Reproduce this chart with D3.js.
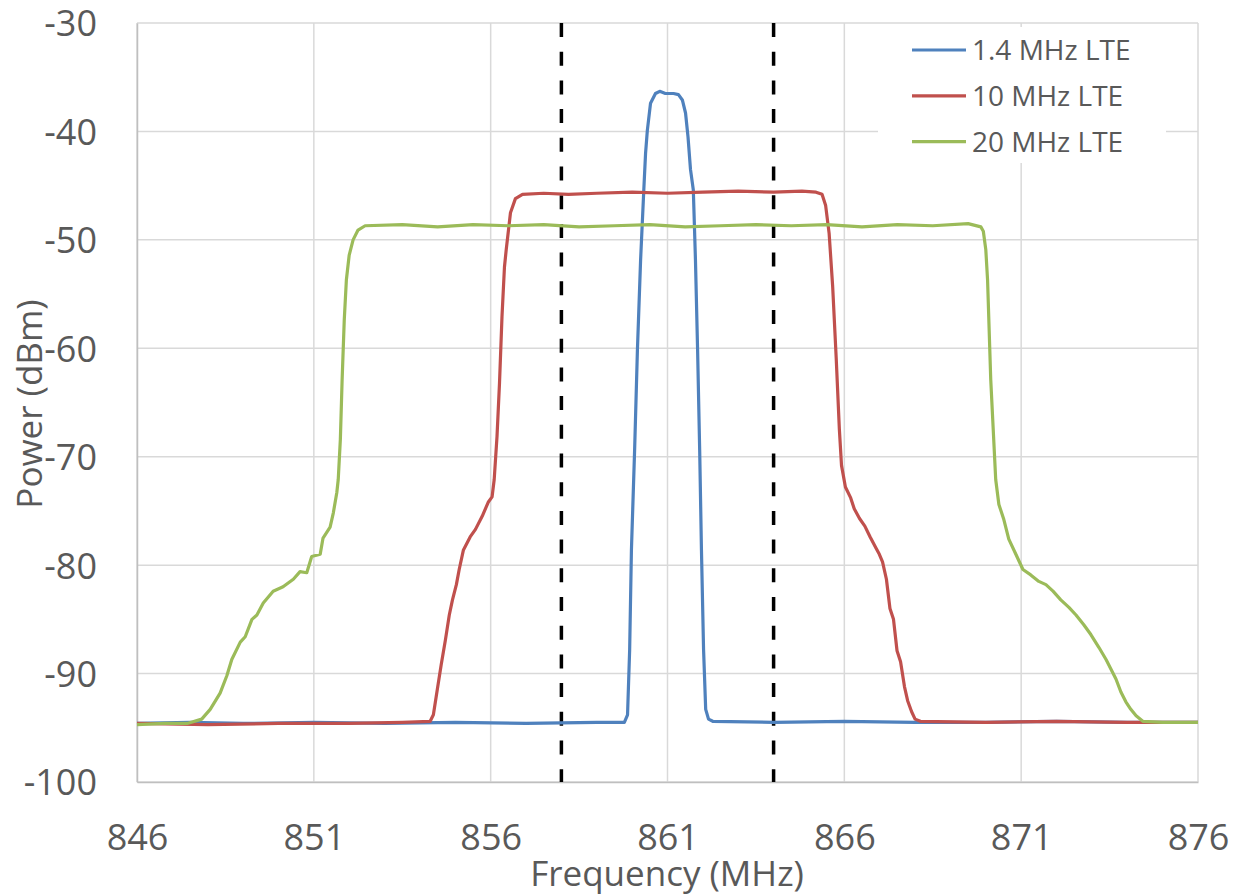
<!DOCTYPE html>
<html>
<head>
<meta charset="utf-8">
<script src="https://cdn.jsdelivr.net/npm/d3@7"></script>
<style>
	body { margin: 0; background: #fff; }
	text { font-family: "Open Sans", sans-serif; fill: #595959; }
</style>
</head>
<body>
<div id="chartContainer"></div>
<script>

// series: [MHz, dBm]
var lte14 = [
	[846, -94.6], [847.5, -94.5], [849, -94.6], [851, -94.5], [853, -94.6], [855, -94.5],
	[857, -94.6], [859, -94.5], [859.78, -94.5], [859.87, -93.8], [859.93, -87.8], [859.98, -78.6],
	[860.07, -69.4], [860.15, -60.1], [860.24, -51.8], [860.33, -45.4], [860.38, -42], [860.43, -39.9],
	[860.52, -37.4], [860.66, -36.5], [860.78, -36.3], [860.94, -36.5], [861.17, -36.5], [861.31, -36.6],
	[861.42, -37.1], [861.51, -38.3], [861.58, -40.5], [861.65, -43.5], [861.73, -45.4], [861.79, -51.8],
	[861.85, -60], [861.91, -69.4], [861.96, -78.6], [862.02, -87.8], [862.08, -93.3], [862.16, -94.2],
	[862.28, -94.4], [864, -94.5], [866, -94.4], [868, -94.5], [870, -94.5], [872, -94.4], [874, -94.5], [876, -94.5]
]

var lte10 = [
	[846, -94.6], [848, -94.7], [850, -94.6], [852, -94.6], [853.5, -94.5], [854.29, -94.4],
	[854.38, -93.8], [854.49, -91.5], [854.6, -89.2], [854.72, -86.9], [854.83, -84.6], [854.92, -83.2],
	[855.03, -81.8], [855.11, -80.4], [855.23, -78.6], [855.42, -77.4], [855.57, -76.7], [855.76, -75.5],
	[855.93, -74.2], [856.04, -73.7], [856.1, -72.1], [856.18, -68.1], [856.25, -63.2], [856.32, -57.1],
	[856.39, -52.5], [856.44, -50.9], [856.56, -47.5], [856.7, -46.2], [856.9, -45.8], [857.5, -45.7],
	[858.2, -45.8], [859, -45.7], [860, -45.6], [861, -45.7], [862, -45.6], [863, -45.5], [864, -45.6],
	[864.8, -45.5], [865.2, -45.6], [865.37, -45.8], [865.47, -46.8], [865.57, -49.4], [865.67, -54.3],
	[865.77, -60.9], [865.86, -67.5], [865.92, -70.8], [866.03, -72.8], [866.18, -73.8], [866.28, -74.8],
	[866.43, -75.7], [866.58, -76.4], [866.73, -77.4], [866.89, -78.4], [866.99, -79.0], [867.08, -79.7],
	[867.19, -81.3], [867.29, -84.0], [867.39, -85.0], [867.49, -87.9], [867.59, -88.9], [867.7, -91.2],
	[867.79, -92.5], [867.9, -93.5], [868.0, -94.2], [868.15, -94.4], [870, -94.5], [872, -94.4],
	[874, -94.5], [876, -94.5]
]

var lte20 = [
	[846, -94.7], [846.8, -94.6], [847.42, -94.6], [847.83, -94.2], [848.07, -93.3], [848.35, -91.8],
	[848.54, -90.2], [848.68, -88.7], [848.92, -87.1], [849.06, -86.6], [849.25, -85.0], [849.39, -84.6],
	[849.57, -83.5], [849.85, -82.4], [850.13, -82.0], [850.42, -81.3], [850.61, -80.6], [850.8, -80.7],
	[850.94, -79.2], [851.18, -79.0], [851.26, -77.5], [851.46, -76.5], [851.55, -75.2], [851.65, -73.3],
	[851.69, -72.1], [851.75, -68.4], [851.8, -62.9], [851.86, -57.4], [851.92, -53.7], [852.0, -51.4],
	[852.11, -50], [852.25, -49.1], [852.45, -48.7], [853.5, -48.6], [854.5, -48.8], [855.5, -48.6],
	[856.5, -48.7], [857.5, -48.6], [858.5, -48.8], [859.5, -48.7], [860.5, -48.6], [861.5, -48.8],
	[862.5, -48.7], [863.5, -48.6], [864.5, -48.7], [865.5, -48.6], [866.5, -48.8], [867.5, -48.6],
	[868.5, -48.7], [869.5, -48.5], [869.86, -48.8], [869.93, -49.2], [870.0, -50.9], [870.05, -53.7],
	[870.14, -62.9], [870.28, -72.1], [870.37, -74.4], [870.51, -75.8], [870.65, -77.6], [870.85, -79.0],
	[871.05, -80.4], [871.27, -80.9], [871.5, -81.5], [871.7, -81.8], [871.9, -82.4], [872.12, -83.2],
	[872.35, -83.9], [872.55, -84.6], [872.77, -85.5], [872.97, -86.4], [873.2, -87.6], [873.4, -88.7],
	[873.54, -89.6], [873.68, -90.5], [873.82, -91.7], [873.96, -92.6], [874.1, -93.3], [874.25, -93.9],
	[874.44, -94.4], [875, -94.5], [876, -94.5]
]

var seriesNames = ["1.4 MHz LTE", "10 MHz LTE", "20 MHz LTE"]
var seriesColors = ["#4f81bd", "#c0504d", "#9bbb59"]
var xTicks = [846, 851, 856, 861, 866, 871, 876]
var yTicks = [-30, -40, -50, -60, -70, -80, -90, -100]
var channelEdges = [858, 864]

var width = 1239
var height = 894
var margin = {top: 23, right: 41, bottom: 112, left: 137}
var plotW = width - margin.left - margin.right
var plotH = height - margin.top - margin.bottom

var svg = d3.select("#chartContainer").append("svg")
	.attr("width", width)
	.attr("height", height)

var x = d3.scaleLinear()
	.domain([846, 876])
	.range([0, plotW])

var y = d3.scaleLinear()
	.domain([-100, -30])
	.range([plotH, 0])

var g = svg.append("g")
	.attr("transform", "translate(" + margin.left + "," + margin.top + ")")

// gridlines (including the frame edges)
g.append("g")
	.selectAll("line")
	.data(yTicks)
	.enter().append("line")
		.attr("x1", 0)
		.attr("x2", plotW)
		.attr("y1", d => y(d))
		.attr("y2", d => y(d))
		.attr("stroke", "#d9d9d9")
		.attr("stroke-width", 1.5)

g.append("g")
	.selectAll("line")
	.data(xTicks)
	.enter().append("line")
		.attr("x1", d => x(d))
		.attr("x2", d => x(d))
		.attr("y1", 0)
		.attr("y2", plotH)
		.attr("stroke", "#d9d9d9")
		.attr("stroke-width", 1.5)

// axes, only the labels are kept (plain hyphen like excel)
var yAxis = g.append("g")
	.call(d3.axisLeft(y).tickValues(yTicks).tickFormat(d => String(d)).tickSize(0).tickPadding(40))
yAxis.select(".domain").attr("stroke", "#bfbfbf").attr("stroke-width", 1.5)
yAxis.selectAll("text")
	.style("font-size", "36px")
	.attr("dy", "0.36em")

var xAxis = g.append("g")
	.attr("transform", "translate(0," + plotH + ")")
	.call(d3.axisBottom(x).tickValues(xTicks).tickFormat(d => String(d)).tickSize(0).tickPadding(42))
xAxis.select(".domain").attr("stroke", "#bfbfbf").attr("stroke-width", 1.5)
xAxis.selectAll("text")
	.style("font-size", "36px")
	.attr("dy", "0.71em")

// dashed channel edges
g.append("g")
	.selectAll("line")
	.data(channelEdges)
	.enter().append("line")
		.attr("x1", d => x(d))
		.attr("x2", d => x(d))
		.attr("y1", y(-30))
		.attr("y2", y(-100))
		.attr("stroke", "#000")
		.attr("stroke-width", 3.5)
		.attr("stroke-dasharray", "14,14.7")

var line = d3.line()
	.x(d => x(d[0]))
	.y(d => y(d[1]))

var allSeries = [lte14, lte10, lte20]

g.append("g")
	.selectAll("path")
	.data(allSeries)
	.enter().append("path")
		.attr("fill", "none")
		.attr("stroke", (d, i) => seriesColors[i])
		.attr("stroke-width", 3.2)
		.attr("stroke-linejoin", "round")
		.attr("d", line)

// legend with white box over the grid
var legend = svg.append("g")
	.attr("transform", "translate(878,27)")

legend.append("rect")
	.attr("width", 288)
	.attr("height", 136)
	.attr("fill", "#fff")

var legendItems = legend.selectAll(".legendItem")
	.data(seriesNames)
	.enter().append("g")
		.attr("class", "legendItem")
		.attr("transform", (d, i) => "translate(0," + (23 + i * 45.8) + ")")

legendItems.append("line")
	.attr("x1", 34)
	.attr("x2", 88)
	.attr("stroke", (d, i) => seriesColors[i])
	.attr("stroke-width", 3.2)

legendItems.append("text")
	.attr("x", 94)
	.attr("dy", "0.36em")
	.style("font-size", "28px")
	.text(d => d)

// axis titles
svg.append("text")
	.attr("transform", "translate(42,404) rotate(-90)")
	.attr("text-anchor", "middle")
	.style("font-size", "35px")
	.text("Power (dBm)")

svg.append("text")
	.attr("x", 667)
	.attr("y", 886)
	.attr("text-anchor", "middle")
	.style("font-size", "35px")
	.text("Frequency (MHz)")

</script>
</body>
</html>
